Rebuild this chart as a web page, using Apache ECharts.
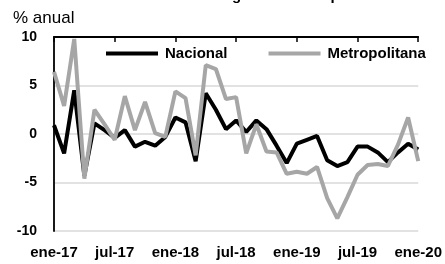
<!DOCTYPE html>
<html>
<head>
<meta charset="utf-8">
<script src="https://cdn.jsdelivr.net/npm/echarts@6/dist/echarts.min.js"></script>
<style>html,body{margin:0;padding:0;background:#fff}#c{width:445px;height:264px}</style>
</head>
<body>
<div id="c"></div>
<script>
const months = ['ene','feb','mar','abr','may','jun','jul','ago','sep','oct','nov','dic'];
const categories = [];
for (let y = 17; y <= 20; y++) for (let m = 0; m < 12; m++) { if (y === 20 && m > 0) break; categories.push(months[m] + '-' + y); }
const nacional = [0.9,-2.0,4.5,-4.3,1.1,0.4,-0.4,0.4,-1.3,-0.8,-1.2,-0.3,1.7,1.2,-2.8,4.2,2.5,0.5,1.4,0.2,1.4,0.5,-1.2,-3.0,-1.0,-0.6,-0.2,-2.7,-3.3,-2.9,-1.3,-1.3,-1.9,-2.9,-1.9,-1.0,-1.6];
const metropolitana = [6.4,2.9,9.8,-4.6,2.5,1.0,-0.6,3.9,0.4,3.3,0.1,-0.3,4.4,3.7,-2.2,7.1,6.7,3.6,3.8,-2.0,1.0,-1.8,-1.9,-4.1,-3.9,-4.1,-3.4,-6.6,-8.7,-6.5,-4.2,-3.2,-3.1,-3.3,-1.1,1.7,-2.8];
const yTicks = {min: -10, max: 10, interval: 5};
const unitLabel = '% anual';
const titleText = 'Crecimiento del ingreso laboral promedio';

const chart = echarts.init(document.getElementById('c'), null, {renderer: 'canvas'});
chart.setOption({
  animation: false,
  backgroundColor: '#fff',
  graphic: [
    {type: 'text', left: 13, top: 10, style: {text: unitLabel, font: '17px "Liberation Sans", Arial, sans-serif', fill: '#000'}},
    {type: 'text', x: 102, y: -4, style: {text: titleText, font: 'bold 15px "Liberation Sans", Arial, sans-serif', fill: '#000', verticalAlign: 'middle', align: 'left'}}
  ],
  legend: {
    left: 101, top: 41, itemWidth: 52, itemHeight: 4, itemGap: 41, icon: 'rect',
    textStyle: {fontFamily: '"Liberation Sans", Arial, sans-serif', fontWeight: 'bold', fontSize: 15, color: '#000', padding: [0,0,0,2]},
    data: ['Nacional', 'Metropolitana']
  },
  grid: {left: 54, right: 23, top: 37, bottom: 33, containLabel: false},
  xAxis: [
    {type: 'category', data: categories, boundaryGap: false, position: 'bottom',
     axisLine: {show: false}, axisTick: {show: false},
     axisLabel: {interval: 5, margin: 14, fontFamily: '"Liberation Sans", Arial, sans-serif', fontWeight: 'bold', fontSize: 15, color: '#000', showMaxLabel: true}},
    {type: 'category', data: categories, boundaryGap: false, position: 'top',
     axisLine: {show: true, onZero: true, lineStyle: {color: '#000', width: 1.8}},
     axisTick: {show: true, interval: 5, inside: true, length: 5, lineStyle: {color: '#000', width: 1.5}},
     axisLabel: {show: false}}
  ],
  yAxis: {
    type: 'value', min: yTicks.min, max: yTicks.max, interval: yTicks.interval,
    axisLine: {show: true, onZero: false, lineStyle: {color: '#000', width: 1.8}},
    axisTick: {show: false},
    splitLine: {show: true, lineStyle: {color: '#d9d9d9', width: 1.5}},
    axisLabel: {margin: 17, fontFamily: '"Liberation Sans", Arial, sans-serif', fontWeight: 'bold', fontSize: 14, color: '#000'}
  },
  series: [
    {name: 'Nacional', type: 'line', data: nacional, symbol: 'none', xAxisIndex: 0, itemStyle: {color: '#000'}, lineStyle: {color: '#000', width: 4}, z: 3},
    {name: 'Metropolitana', type: 'line', data: metropolitana, symbol: 'none', xAxisIndex: 0, itemStyle: {color: '#a6a6a6'}, lineStyle: {color: '#a6a6a6', width: 4}, z: 4}
  ]
});
</script>
</body>
</html>
